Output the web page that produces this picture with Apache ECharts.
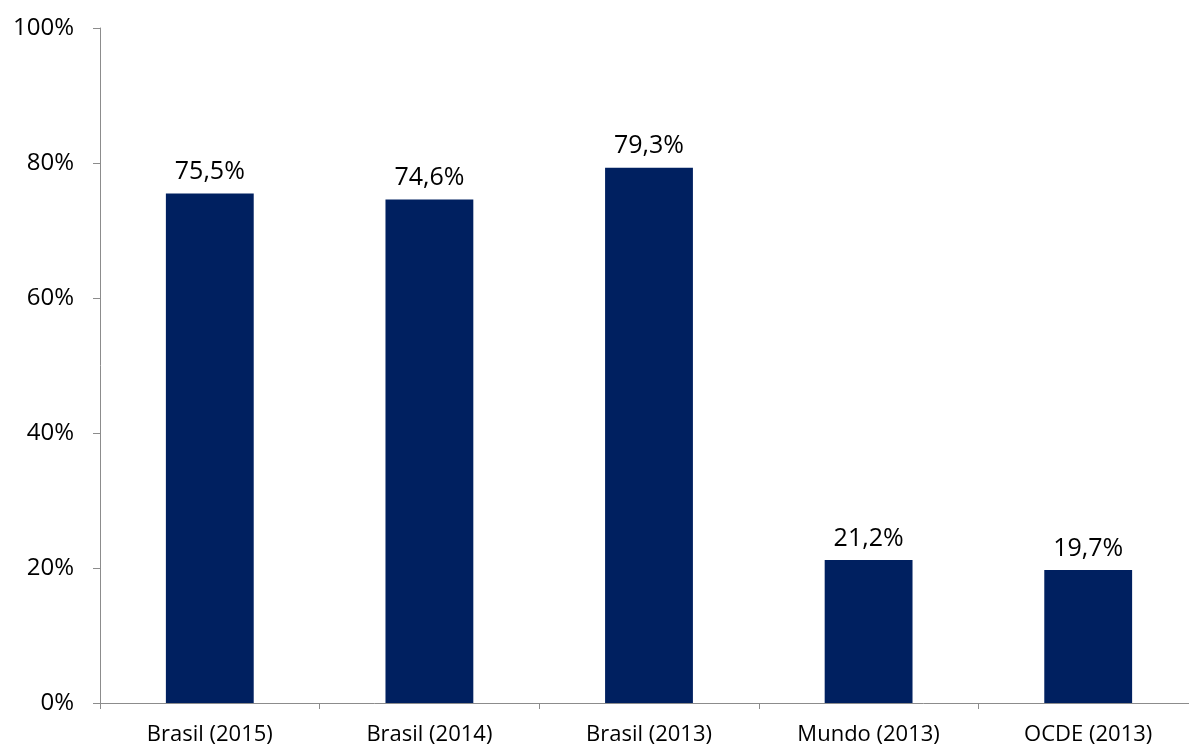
<!DOCTYPE html>
<html>
<head>
<meta charset="utf-8">
<script src="https://cdn.jsdelivr.net/npm/echarts@6/dist/echarts.min.js"></script>
<style>
  html, body { margin: 0; padding: 0; background: #fff; overflow: hidden; }
  /* the plot runs a little past the right edge of the window */
  #chart { width: 1198px; height: 748px; }
</style>
</head>
<body>
<div id="chart"></div>
<script>
const categories = ['Brasil (2015)', 'Brasil (2014)', 'Brasil (2013)', 'Mundo (2013)', 'OCDE (2013)'];
const shares = [75.5, 74.6, 79.3, 21.2, 19.7];
const yTicks = [0, 20, 40, 60, 80, 100];

const font = '"Open Sans", "Noto Sans", sans-serif';
const chart = echarts.init(document.getElementById('chart'), null, { renderer: 'canvas' });

chart.setOption({
  animation: false,
  grid: { left: 100, top: 28, right: 0, bottom: 45, containLabel: false },
  xAxis: {
    type: 'category',
    data: categories,
    axisLine: { lineStyle: { color: '#8c8c8c', width: 1 } },
    axisTick: { show: true, length: 6, lineStyle: { color: '#8c8c8c' } },
    axisLabel: { color: '#000', fontFamily: font, fontSize: 22, margin: 21 }
  },
  yAxis: {
    type: 'value',
    min: yTicks[0],
    max: yTicks[yTicks.length - 1],
    interval: 20,
    axisLine: { show: true, lineStyle: { color: '#8c8c8c', width: 1 } },
    axisTick: { show: true, length: 7, lineStyle: { color: '#8c8c8c' } },
    splitLine: { show: false },
    axisLabel: {
      color: '#000', fontFamily: font, fontSize: 24, margin: 26,
      formatter: v => v + '%'
    }
  },
  series: [{
    type: 'bar',
    data: shares,
    barWidth: '40%',
    itemStyle: { color: '#002060' },
    label: {
      show: true,
      position: 'top',
      distance: 9,
      color: '#000',
      fontFamily: font,
      fontSize: 25,
      formatter: p => p.value.toFixed(1).replace('.', ',') + '%'
    }
  }]
});
</script>
</body>
</html>
